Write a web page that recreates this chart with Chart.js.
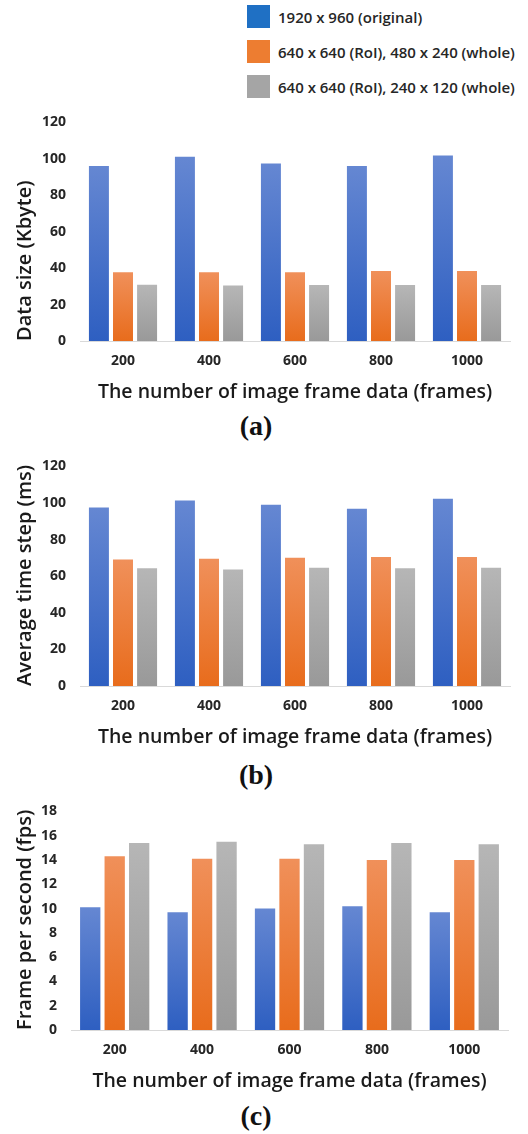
<!DOCTYPE html>
<html>
<head>
<meta charset="utf-8">
<script src="https://cdn.jsdelivr.net/npm/chart.js@4.4.1/dist/chart.umd.min.js"></script>
<style>
  body { margin: 0; background: #fff; width: 528px; height: 1134px; position: relative; overflow: hidden; font-family: "Open Sans", sans-serif; }
  canvas { position: absolute; left: 0; }
  .legend-row { position: absolute; left: 247px; height: 23px; display: flex; align-items: center; font-size: 15px; font-weight: 600; color: #262626; white-space: nowrap; }
  .legend-row span.sw { width: 23px; height: 23px; margin-right: 8px; display: inline-block; }
  .panel { position: absolute; width: 512px; left: 0; text-align: center; font-family: "Liberation Serif", serif; font-weight: bold; font-size: 28px; color: #111; }
</style>
</head>
<body>
<div class="legend-row" style="top:5px"><span class="sw" style="background:#1f70c4"></span>1920 x 960 (original)</div>
<div class="legend-row" style="top:40px"><span class="sw" style="background:#ed7d31"></span>640 x 640 (RoI), 480 x 240 (whole)</div>
<div class="legend-row" style="top:75px"><span class="sw" style="background:#a5a5a5"></span>640 x 640 (RoI), 240 x 120 (whole)</div>

<canvas id="chartA" width="528" height="304" style="top:100px"></canvas>
<div class="panel" style="top:410px">(a)</div>
<canvas id="chartB" width="528" height="305" style="top:444px"></canvas>
<div class="panel" style="top:759px">(b)</div>
<canvas id="chartC" width="528" height="304" style="top:789px"></canvas>
<div class="panel" style="top:1100px">(c)</div>

<script>
const frames = ["200", "400", "600", "800", "1000"];
const seriesNames = ["1920 x 960 (original)", "640 x 640 (RoI), 480 x 240 (whole)", "640 x 640 (RoI), 240 x 120 (whole)"];

// (a) data size, Kbyte
const sizeOriginal = [96.0, 101.1, 97.4, 96.0, 101.8];
const size480 = [37.7, 37.7, 37.7, 38.4, 38.4];
const size240 = [30.9, 30.4, 30.7, 30.7, 30.7];

// (b) average time step, ms
const timeOriginal = [97.5, 101.4, 99.1, 96.8, 102.3];
const time480 = [69.1, 69.6, 70.1, 70.5, 70.5];
const time240 = [64.3, 63.7, 64.6, 64.3, 64.6];

// (c) frames per second
const fpsOriginal = [10.1, 9.7, 10.0, 10.2, 9.7];
const fps480 = [14.3, 14.1, 14.1, 14.0, 14.0];
const fps240 = [15.4, 15.5, 15.3, 15.4, 15.3];

// top / bottom colours of each bar gradient
const gradColors = [
    ["#6587d2", "#2e5fc1"],
    ["#f0905a", "#e86c1c"],
    ["#b6b6b6", "#999999"]
];

function barGradient(idx) {
    return function (context) {
        const chart = context.chart;
        const yScale = chart.scales.y;
        if (!chart.chartArea || !yScale || context.raw === undefined) return gradColors[idx][1];
        const top = yScale.getPixelForValue(context.raw);
        const bottom = yScale.getPixelForValue(0);
        const g = chart.ctx.createLinearGradient(0, top, 0, bottom);
        g.addColorStop(0, gradColors[idx][0]);
        g.addColorStop(1, gradColors[idx][1]);
        return g;
    };
}

function makeChart(id, values, yTitle, yMax, yStep, yWidth, padRight) {
    const ctx = document.getElementById(id);
    return new Chart(ctx, {
        type: "bar",
        data: {
            labels: frames,
            datasets: values.map((v, i) => ({
                label: seriesNames[i],
                data: v,
                backgroundColor: barGradient(i),
                borderWidth: 0,
                categoryPercentage: 0.84,
                barPercentage: 0.83
            }))
        },
        options: {
            responsive: false,
            animation: false,
            layout: { padding: { top: 17, right: padRight, bottom: 0, left: 0 } },
            plugins: {
                legend: { display: false },
                tooltip: { enabled: false }
            },
            scales: {
                x: {
                    grid: { display: false, drawTicks: false },
                    border: { display: true, color: "#d9d9d9", width: 1 },
                    ticks: {
                        padding: 12,
                        color: "#262626",
                        font: { family: "Open Sans", size: 14, weight: "700" }
                    },
                    title: {
                        display: true,
                        text: "The number of image frame data (frames)",
                        color: "#1a1a1a",
                        padding: 0,
                        font: { family: "Open Sans", size: 19.5, weight: "600" }
                    },
                    afterFit: function (scale) { scale.height = 63; }
                },
                y: {
                    min: 0,
                    max: yMax,
                    grid: { display: false, drawTicks: false },
                    border: { display: false },
                    ticks: {
                        stepSize: yStep,
                        padding: 14,
                        color: "#262626",
                        font: { family: "Open Sans", size: 14, weight: "700" }
                    },
                    title: {
                        display: true,
                        text: yTitle,
                        align: "start",
                        color: "#1a1a1a",
                        padding: { top: 13, bottom: 0 },
                        font: { family: "Open Sans", size: 20, weight: "600" }
                    },
                    afterFit: function (scale) { scale.width = yWidth; }
                }
            }
        }
    });
}

makeChart("chartA", [sizeOriginal, size480, size240], "Data size (Kbyte)", 120, 20, 80, 18);
makeChart("chartB", [timeOriginal, time480, time240], "Average time step (ms)", 120, 20, 80, 18);
makeChart("chartC", [fpsOriginal, fps480, fps240], "Frame per second (fps)", 18, 2, 71, 20);
</script>
</body>
</html>
